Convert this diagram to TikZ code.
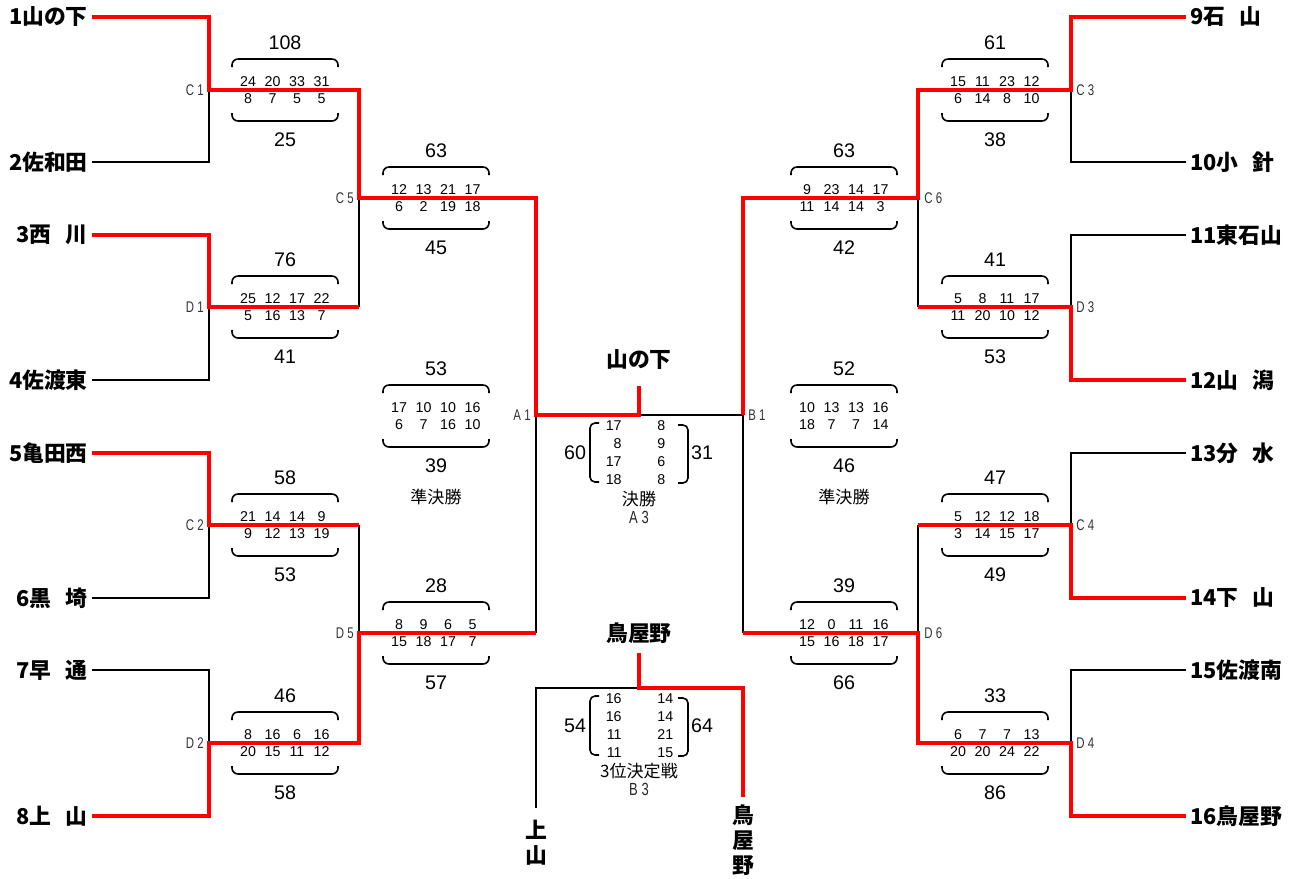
\documentclass[tikz,border=0pt]{standalone}
\usepackage{fontspec}
\setmainfont{Liberation Sans}
\newfontfamily\cjk{Noto Sans CJK JP}
\newcommand\jsp{\hspace{0.65em}}
\newcommand\jlab[1]{\scalebox{0.74}[1]{#1}}
\newcommand\scorebx[7]{%
  \node[tot] (#1t) at (#2,#3-47) {#4};
  \node[tot] (#1b) at (#2,#3+50) {#7};
  \draw[brk] (#2-53,#3-23) -- (#2-53,#3-31) -- (#2+53,#3-31) -- (#2+53,#3-23);
  \draw[brk] (#2-53,#3+23) -- (#2-53,#3+31) -- (#2+53,#3+31) -- (#2+53,#3+23);
  \foreach \v [count=\i] in {#5} {\node[sc] (#1u\i) at ({#2-37+(\i-1)*24.5},{#3-8.5}) {\v};}
  \foreach \v [count=\i] in {#6} {\node[sc] (#1d\i) at ({#2-37+(\i-1)*24.5},{#3+9}) {\v};}
}
\newcommand\finbx[6]{%
  \node[tot] (#1l) at (575,#2) {#3};
  \node[tot] (#1r) at (702,#2) {#6};
  \draw[brk2] (599,#2-30) -- (590,#2-30) -- (590,#2+29) -- (599,#2+29);
  \draw[brk2] (678,#2-28) -- (688,#2-28) -- (688,#2+30) -- (678,#2+30);
  \foreach \v [count=\i] in {#4} {\node[sc, anchor=east] (#1a\i) at (622,{#2-27+(\i-1)*18}) {\v};}
  \foreach \v [count=\i] in {#5} {\node[sc, anchor=west] (#1b\i) at (657,{#2-27+(\i-1)*18}) {\v};}
}
\begin{document}
\begin{tikzpicture}[x=0.2mm,y=-0.2mm,
  lose/.style={line width=1.2pt, black},
  win/.style={line width=2.5pt, red},
  brk/.style={line width=0.9pt, rounded corners=1.2mm},
  brk2/.style={line width=0.9pt, rounded corners=1mm},
  team/.style={font=\cjk\bfseries\fontsize{12.4}{14.2}\selectfont, inner ysep=0pt, inner xsep=0.8mm},
  tot/.style={font=\fontsize{11.2}{13}\selectfont, inner sep=0pt},
  sc/.style={font=\fontsize{8.1}{9}\selectfont, inner sep=0pt},
  jl/.style={font=\fontsize{8.8}{10}\selectfont, text=black!80, inner sep=0pt},
  jl2/.style={font=\fontsize{10}{11}\selectfont, text=black!85, inner sep=0pt},
  capt/.style={font=\cjk\fontsize{9.7}{11}\selectfont, inner sep=0pt}]
\fill[white] (0,0) rectangle (1296,878);
\useasboundingbox (0,0) rectangle (1296,878);

% junction coordinates, left half
\coordinate (C1) at (209,90);  \coordinate (C1o) at (359,90);
\coordinate (D1) at (209,307); \coordinate (D1o) at (359,307);
\coordinate (C2) at (209,525); \coordinate (C2o) at (359,525);
\coordinate (D2) at (209,743); \coordinate (D2o) at (359,743);
\coordinate (C5) at (359,198); \coordinate (C5o) at (536,198);
\coordinate (D5) at (359,633); \coordinate (D5o) at (536,633);
\coordinate (A1) at (536,415); \coordinate (A1o) at (639,415);
% right half
\coordinate (C3) at (1071,90);  \coordinate (C3o) at (918,90);
\coordinate (D3) at (1071,307); \coordinate (D3o) at (918,307);
\coordinate (C4) at (1071,525); \coordinate (C4o) at (918,525);
\coordinate (D4) at (1071,743); \coordinate (D4o) at (918,743);
\coordinate (C6) at (918,198);  \coordinate (C6o) at (743,198);
\coordinate (D6) at (918,633);  \coordinate (D6o) at (743,633);
\coordinate (B1) at (743,415);
% third place
\coordinate (B3m) at (639,688); \coordinate (B3r) at (743,688);
\coordinate (champE) at (639,386); \coordinate (thirdE) at (639,653);
\coordinate (kamiE) at (536,808); \coordinate (toyaE) at (743,797);

% team labels
\node[team, anchor=east] (n1) at (92,17)  {1山の下};
\node[team, anchor=east] (n2) at (92,162) {2佐和田};
\node[team, anchor=east] (n3) at (92,235) {3西\jsp 川};
\node[team, anchor=east] (n4) at (92,380) {4佐渡東};
\node[team, anchor=east] (n5) at (92,453) {5亀田西};
\node[team, anchor=east] (n6) at (92,598) {6黒\jsp 埼};
\node[team, anchor=east] (n7) at (92,670) {7早\jsp 通};
\node[team, anchor=east] (n8) at (92,816) {8上\jsp 山};
\node[team, anchor=west] (n9)  at (1186,17)  {9石\jsp 山};
\node[team, anchor=west] (n10) at (1186,162) {10小\jsp 針};
\node[team, anchor=west] (n11) at (1186,235) {11東石山};
\node[team, anchor=west] (n12) at (1186,380) {12山\jsp 潟};
\node[team, anchor=west] (n13) at (1186,453) {13分\jsp 水};
\node[team, anchor=west] (n14) at (1186,598) {14下\jsp 山};
\node[team, anchor=west] (n15) at (1186,670) {15佐渡南};
\node[team, anchor=west] (n16) at (1186,816) {16鳥屋野};

\node[team] (champ) at (639,360) {山の下};
\node[team] (third) at (639,633) {鳥屋野};
\node[team, align=center] (kami) at (536,843) {上\\山};
\node[team, align=center] (toya) at (743,840) {鳥\\屋\\野};

% losing lines
\draw[lose] (n2.east) -| (C1);
\draw[lose] (n4.east) -| (D1);
\draw[lose] (C5) -- (D1o);
\draw[lose] (n6.east) -| (C2);
\draw[lose] (C2o) -- (D5);
\draw[lose] (n7.east) -| (D2);
\draw[lose] (A1) -- (D5o);
\draw[lose] (A1o) -- (B1) -- (D6o);
\draw[lose] (n10.west) -| (C3);
\draw[lose] (n11.west) -| (D3);
\draw[lose] (C6) -- (D3o);
\draw[lose] (n13.west) -| (C4);
\draw[lose] (C4o) -- (D6);
\draw[lose] (n15.west) -| (D4);
\draw[lose] (B3m) -| (kamiE);

% winning lines
\draw[win] (n1.east) -| (C1) -- (C1o) |- (C5o) |- (A1o) -- (champE);
\draw[win] (n3.east) -| (D1) -- (D1o);
\draw[win] (n5.east) -| (C2) -- (C2o);
\draw[win] (n8.east) -| (D2) -- (D2o) |- (D5o);
\draw[win] (n9.west) -| (C3) -- (C3o) |- (C6o) -- (B1);
\draw[win] (n12.west) -| (D3) -- (D3o);
\draw[win] (n14.west) -| (C4) -- (C4o);
\draw[win] (n16.west) -| (D4) -- (D4o) |- (D6o);
\draw[win] (thirdE) -- (B3m) -- (B3r) -- (toyaE);

% junction labels
\node[jl, anchor=east] (lC1) at (204,90)  {\jlab{C 1}};
\node[jl, anchor=east] (lD1) at (204,307) {\jlab{D 1}};
\node[jl, anchor=east] (lC2) at (204,525) {\jlab{C 2}};
\node[jl, anchor=east] (lD2) at (204,743) {\jlab{D 2}};
\node[jl, anchor=east] (lC5) at (354,198) {\jlab{C 5}};
\node[jl, anchor=east] (lD5) at (354,633) {\jlab{D 5}};
\node[jl, anchor=east] (lA1) at (531,415) {\jlab{A 1}};
\node[jl, anchor=west] (lC3) at (1076,90)  {\jlab{C 3}};
\node[jl, anchor=west] (lD3) at (1076,307) {\jlab{D 3}};
\node[jl, anchor=west] (lC4) at (1076,525) {\jlab{C 4}};
\node[jl, anchor=west] (lD4) at (1076,743) {\jlab{D 4}};
\node[jl, anchor=west] (lC6) at (924,198) {\jlab{C 6}};
\node[jl, anchor=west] (lD6) at (924,633) {\jlab{D 6}};
\node[jl, anchor=west] (lB1) at (748,415) {\jlab{B 1}};

% score boxes
\scorebx{mC1}{285}{90}{108}{24,20,33,31}{8,7,5,5}{25}
\scorebx{mD1}{285}{307}{76}{25,12,17,22}{5,16,13,7}{41}
\scorebx{mC2}{285}{525}{58}{21,14,14,9}{9,12,13,19}{53}
\scorebx{mD2}{285}{743}{46}{8,16,6,16}{20,15,11,12}{58}
\scorebx{mC5}{436}{198}{63}{12,13,21,17}{6,2,19,18}{45}
\scorebx{mD5}{436}{633}{28}{8,9,6,5}{15,18,17,7}{57}
\scorebx{mSL}{436}{416}{53}{17,10,10,16}{6,7,16,10}{39}
\scorebx{mC3}{995}{90}{61}{15,11,23,12}{6,14,8,10}{38}
\scorebx{mD3}{995}{307}{41}{5,8,11,17}{11,20,10,12}{53}
\scorebx{mC4}{995}{525}{47}{5,12,12,18}{3,14,15,17}{49}
\scorebx{mD4}{995}{743}{33}{6,7,7,13}{20,20,24,22}{86}
\scorebx{mC6}{844}{198}{63}{9,23,14,17}{11,14,14,3}{42}
\scorebx{mD6}{844}{633}{39}{12,0,11,16}{15,16,18,17}{66}
\scorebx{mSR}{844}{416}{52}{10,13,13,16}{18,7,7,14}{46}
\node[capt] (sfl) at (436,497) {準決勝};
\node[capt] (sfr) at (844,497) {準決勝};

% final and third place
\finbx{fA}{453}{60}{17,8,17,18}{8,9,6,8}{31}
\finbx{fB}{726}{54}{16,16,11,11}{14,14,21,15}{64}
\node[capt] (fAc) at (639,499) {決勝};
\node[jl2] (fAl) at (639,517) {\jlab{A 3}};
\node[capt] (fBc) at (639,771) {3位決定戦};
\node[jl2] (fBl) at (639,789) {\jlab{B 3}};
\end{tikzpicture}
\end{document}
